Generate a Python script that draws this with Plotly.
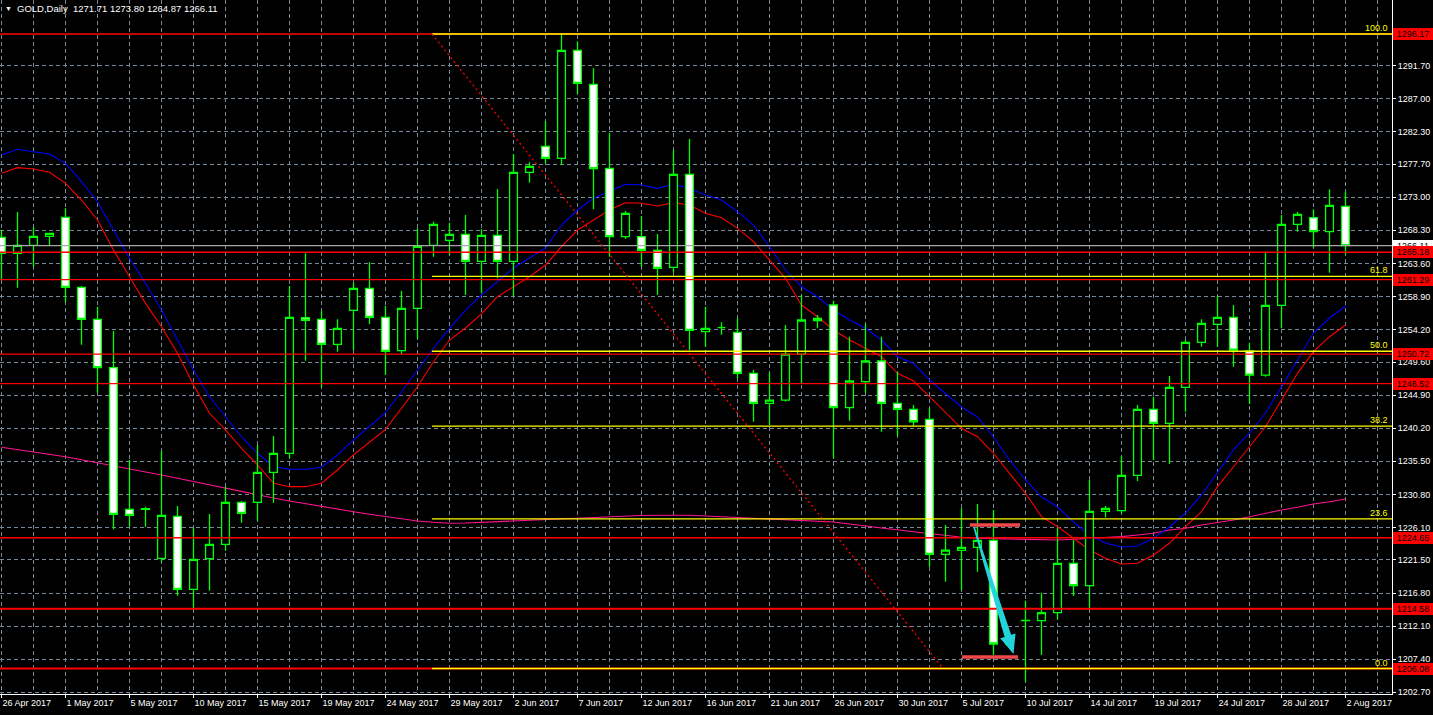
import plotly.graph_objects as go
from datetime import datetime

# ---------------- data ----------------
dates = ["2017-04-26","2017-04-27","2017-04-28","2017-04-30","2017-05-01","2017-05-02","2017-05-03","2017-05-04","2017-05-05","2017-05-07",
 "2017-05-08","2017-05-09","2017-05-10","2017-05-11","2017-05-12","2017-05-14","2017-05-15","2017-05-16","2017-05-17","2017-05-18",
 "2017-05-19","2017-05-21","2017-05-22","2017-05-23","2017-05-24","2017-05-25","2017-05-26","2017-05-28","2017-05-29","2017-05-30",
 "2017-05-31","2017-06-01","2017-06-02","2017-06-04","2017-06-05","2017-06-06","2017-06-07","2017-06-08","2017-06-09","2017-06-11",
 "2017-06-12","2017-06-13","2017-06-14","2017-06-15","2017-06-16","2017-06-18","2017-06-19","2017-06-20","2017-06-21","2017-06-22",
 "2017-06-23","2017-06-25","2017-06-26","2017-06-27","2017-06-28","2017-06-29","2017-06-30","2017-07-02","2017-07-03","2017-07-04",
 "2017-07-05","2017-07-06","2017-07-07","2017-07-09","2017-07-10","2017-07-11","2017-07-12","2017-07-13","2017-07-14","2017-07-16",
 "2017-07-17","2017-07-18","2017-07-19","2017-07-20","2017-07-21","2017-07-23","2017-07-24","2017-07-25","2017-07-26","2017-07-27",
 "2017-07-28","2017-07-30","2017-07-31","2017-08-01","2017-08-02"]

opens = [1267.30,1265.03,1266.16,1267.44,1270.14,1260.20,1255.66,1248.79,1228.68,1228.68,
 1221.72,1227.68,1217.32,1221.67,1223.71,1229.67,1229.67,1233.93,1236.63,1255.89,
 1255.66,1252.11,1256.93,1260.06,1255.94,1251.21,1257.22,1266.16,1266.87,1267.73,
 1263.89,1267.58,1263.89,1276.53,1280.22,1278.52,1293.85,1289.03,1277.10,1267.40,
 1267.40,1265.46,1263.04,1276.25,1253.91,1254.47,1253.81,1247.99,1243.73,1244.20,
 1250.73,1255.47,1257.69,1243.11,1246.80,1249.74,1243.73,1242.88,1241.46,1222.29,
 1222.86,1223.28,1224.28,1209.56,1212.87,1212.87,1214.01,1221.01,1217.84,1228.39,
 1228.49,1233.51,1242.88,1240.89,1246.00,1252.39,1254.95,1255.94,1251.16,1247.75,
 1257.64,1269.15,1270.09,1268.10,1271.71]
highs = [1268.30,1270.90,1268.72,1267.95,1271.42,1260.40,1257.45,1254.00,1235.68,1229.06,
 1237.01,1229.15,1226.08,1228.02,1231.90,1229.86,1237.81,1239.09,1260.39,1265.03,
 1256.89,1255.66,1260.86,1263.75,1257.55,1259.68,1268.58,1269.52,1269.38,1270.47,
 1268.44,1274.16,1279.09,1277.95,1283.82,1296.17,1295.13,1291.30,1282.16,1271.04,
 1270.33,1267.77,1279.70,1281.26,1257.46,1255.23,1255.80,1248.46,1248.10,1254.85,
 1259.11,1256.27,1258.31,1253.19,1254.99,1253.19,1248.22,1243.49,1243.02,1226.45,
 1228.82,1229.44,1228.58,1210.50,1215.71,1216.85,1225.98,1224.32,1232.84,1229.15,
 1236.25,1243.49,1244.68,1247.61,1252.72,1255.66,1258.97,1257.69,1252.34,1265.26,
 1270.47,1270.94,1271.27,1274.11,1273.80]
lows = [1261.34,1260.15,1263.13,1266.16,1258.07,1252.06,1245.24,1225.84,1226.22,1226.22,
 1221.25,1216.42,1214.48,1217.13,1222.81,1226.79,1227.07,1229.63,1235.92,1249.79,
 1246.00,1251.07,1251.30,1254.95,1247.75,1250.69,1252.86,1264.55,1264.79,1259.11,
 1259.35,1261.48,1258.97,1275.06,1277.81,1277.57,1287.65,1271.28,1264.56,1267.06,
 1263.14,1259.11,1262.28,1251.30,1251.78,1253.48,1247.28,1241.12,1240.65,1244.00,
 1246.57,1254.38,1235.92,1241.27,1245.24,1239.70,1239.09,1240.51,1220.54,1218.41,
 1217.22,1219.83,1208.00,1209.30,1204.20,1208.00,1213.06,1216.37,1214.62,1227.54,
 1228.11,1232.70,1235.68,1235.12,1242.55,1251.77,1251.77,1248.94,1243.63,1247.52,
 1254.38,1268.10,1265.74,1262.28,1264.87]
closes = [1265.03,1266.16,1267.44,1267.87,1260.20,1255.66,1248.79,1227.97,1227.83,1228.78,
 1227.83,1217.32,1221.58,1223.71,1229.67,1228.11,1233.93,1236.63,1255.94,1255.51,
 1252.11,1254.38,1260.06,1255.94,1251.11,1257.22,1266.02,1269.15,1267.73,1263.89,
 1267.58,1263.89,1276.53,1277.38,1278.52,1293.85,1289.17,1277.05,1267.40,1270.71,
 1265.46,1262.90,1276.25,1254.10,1254.38,1254.47,1247.99,1243.73,1244.20,1250.73,
 1255.56,1255.80,1243.11,1246.90,1249.74,1243.73,1242.88,1241.12,1222.29,1222.90,
 1223.28,1224.28,1209.56,1210.22,1212.90,1214.01,1221.01,1217.84,1228.39,1228.82,
 1233.51,1242.88,1240.89,1246.00,1252.39,1255.09,1255.94,1251.30,1247.75,1257.64,
 1269.15,1270.57,1268.10,1271.84,1266.11]

ma_blue = [1278.99,1279.80,1279.46,1279.13,1277.81,1275.20,1272.36,1268.34,1264.32,1260.77,
 1256.98,1252.72,1248.46,1244.67,1241.83,1238.99,1236.64,1234.73,1234.37,1234.37,
 1234.65,1236.40,1238.53,1240.41,1242.40,1245.38,1248.46,1251.55,1254.38,1256.98,
 1259.11,1261.03,1262.95,1264.37,1265.79,1269.05,1271.18,1272.84,1273.78,1274.83,
 1274.73,1274.26,1274.83,1274.26,1273.31,1272.60,1270.94,1269.05,1265.97,1262.66,
 1260.29,1258.87,1256.98,1255.56,1254.38,1252.72,1250.35,1249.42,1247.04,1245.16,
 1243.21,1241.79,1238.95,1235.69,1232.85,1230.43,1229.01,1226.88,1225.04,1223.90,
 1223.33,1223.48,1224.61,1226.17,1228.16,1230.72,1233.84,1237.11,1239.52,1242.36,
 1246.05,1249.88,1253.72,1255.85,1257.55]
ma_red = [1276.39,1277.19,1277.00,1276.53,1274.97,1272.60,1269.76,1265.50,1261.71,1257.93,
 1254.61,1250.84,1246.34,1242.32,1239.95,1237.35,1234.98,1232.38,1231.90,1231.90,
 1232.38,1234.27,1236.40,1238.28,1240.04,1243.03,1246.09,1249.64,1252.72,1254.43,
 1256.42,1258.87,1260.29,1261.71,1263.37,1265.97,1268.34,1269.76,1271.18,1272.22,
 1272.13,1271.75,1272.22,1271.89,1270.71,1270.09,1268.58,1266.68,1264.08,1261.48,
 1257.69,1256.03,1254.14,1252.72,1251.55,1250.35,1247.99,1246.90,1244.67,1242.43,
 1240.19,1238.99,1236.64,1233.80,1230.96,1227.64,1226.22,1224.57,1222.91,1221.73,
 1220.92,1221.02,1222.20,1223.86,1226.22,1228.35,1231.90,1234.73,1237.57,1240.41,
 1244.21,1247.99,1251.06,1253.19,1254.85]
ma_pink = [1237.49,1237.18,1236.86,1236.51,1236.15,1235.73,1235.30,1234.90,1234.51,1234.03,
 1233.56,1233.09,1232.61,1232.14,1231.67,1231.19,1230.72,1230.29,1229.87,1229.47,
 1229.06,1228.70,1228.35,1227.99,1227.64,1227.34,1227.03,1226.84,1226.70,1226.74,
 1226.81,1226.95,1227.03,1227.13,1227.24,1227.34,1227.45,1227.55,1227.64,1227.74,
 1227.81,1227.85,1227.88,1227.84,1227.74,1227.64,1227.49,1227.41,1227.31,1227.27,
 1227.17,1227.07,1226.88,1226.60,1226.27,1226.03,1225.79,1225.46,1225.22,1225.00,
 1224.71,1224.57,1224.51,1224.47,1224.43,1224.33,1224.33,1224.43,1224.57,1224.65,
 1224.80,1225.04,1225.28,1225.75,1225.99,1226.46,1226.78,1227.17,1227.64,1228.12,
 1228.59,1228.97,1229.44,1229.77,1230.15]

level_prices = [1296.17, 1265.18, 1261.29, 1250.72, 1246.52, 1224.65, 1214.58, 1206.08]
level_widths = [1.3, 1.3, 1.3, 1.3, 1.3, 1.3, 2, 2]
bid_price = 1266.11

fib_high = 1296.17
fib_low = 1206.08
fib_bars = [26.9, 58.85]
fib_ratios = [0.0, 0.236, 0.382, 0.5, 0.618, 1.0]
fib_labels = ["0.0", "23.6", "38.2", "50.0", "61.8", "100.0"]

ytick_labels = ["1291.70","1287.00","1282.30","1277.70","1273.00","1268.30","1263.60","1258.90","1254.20","1249.60",
 "1244.90","1240.20","1235.50","1230.80","1226.10","1221.50","1216.80","1212.10","1207.40","1202.70"]

title_text = "GOLD,Daily  1271.71 1273.80 1264.87 1266.11"

zone_top_bars = [60.53, 63.66]
zone_top_price = 1226.46
zone_bottom_bars = [60.03, 63.53]
zone_bottom_price = 1207.72
arrow_start = (60.78, 1226.17)
arrow_end = (63.25, 1208.14)

# ---------------- geometry / style ----------------
W, H = 1433, 715
M_R, M_B = 41, 21
PW, PH = W - M_R, H - M_B
BAR_PX = 16.0
x_range = [-1.5 / BAR_PX, (PW - 1.5) / BAR_PX]
y_range = [1202.463, 1300.997]
GRID = "#778899"
FONT = "Liberation Sans"
LIME = "#00FF00"
PRICE_PER_PX = (y_range[1] - y_range[0]) / PH

idx = list(range(len(dates)))
xtick_pos = idx[::4]
xtick_text = []
for i in xtick_pos:
    d = datetime.strptime(dates[i], "%Y-%m-%d")
    xtick_text.append(f"{d.day} {d.strftime('%b')} {d.year}")
minor_pos = [i for i in range(2, len(dates) + 3, 4)]

fig = go.Figure()

# moving averages (behind candles)
for vals, col in [(ma_pink, "#FF1493"), (ma_red, "#FF0000"), (ma_blue, "#0000FF")]:
    fig.add_trace(go.Scatter(x=idx, y=vals, mode="lines", line=dict(color=col, width=1.1),
                             hoverinfo="skip", showlegend=False))

# candles on overlay axes (drawn above MAs)
fig.add_trace(go.Candlestick(
    x=idx, open=opens, high=highs, low=lows, close=closes,
    xaxis="x2", yaxis="y2",
    increasing=dict(line=dict(color=LIME, width=1.3), fillcolor="#000000"),
    decreasing=dict(line=dict(color=LIME, width=1.3), fillcolor="#FFFFFF"),
    whiskerwidth=0, hoverinfo="skip", showlegend=False))

shapes = []
for p, w in zip(level_prices, level_widths):
    shapes.append(dict(type="line", xref="paper", x0=0, x1=1, yref="y", y0=p, y1=p,
                       line=dict(color="#FF0000", width=w), layer="above"))
shapes.append(dict(type="line", xref="paper", x0=0, x1=1, yref="y", y0=bid_price, y1=bid_price,
                   line=dict(color="#A8A8A8", width=1.2), layer="above"))
for r in fib_ratios:
    p = fib_low + r * (fib_high - fib_low)
    shapes.append(dict(type="line", xref="x", x0=fib_bars[0], x1=x_range[1], yref="y", y0=p, y1=p,
                       line=dict(color="#FFFF00", width=1.3), layer="above"))
shapes.append(dict(type="line", xref="x", yref="y", x0=fib_bars[0], y0=fib_high, x1=fib_bars[1], y1=fib_low,
                   line=dict(color="#FF0000", width=1.3, dash="2px,3px"), layer="above"))
ZONE = "#F04848"
half_t = 1.8 * PRICE_PER_PX
for bars, price in [(zone_top_bars, zone_top_price), (zone_bottom_bars, zone_bottom_price)]:
    shapes.append(dict(type="rect", xref="x", yref="y", x0=bars[0], x1=bars[1],
                       y0=price - half_t, y1=price + half_t, fillcolor=ZONE, opacity=1,
                       line=dict(width=0), layer="above"))

# arrow polygon, built in pixel space then mapped back to data
def to_px(x, y):
    return ((x - x_range[0]) / (x_range[1] - x_range[0]) * PW,
            (y_range[1] - y) / (y_range[1] - y_range[0]) * PH)

def to_data(px, py):
    return (x_range[0] + px / PW * (x_range[1] - x_range[0]),
            y_range[1] - py / PH * (y_range[1] - y_range[0]))

sx, sy = to_px(*arrow_start)
tx, ty = to_px(*arrow_end)
dx, dy = tx - sx, ty - sy
L = (dx * dx + dy * dy) ** 0.5
ux, uy = dx / L, dy / L
nx, ny = uy, -ux
head_len, head_half, shaft_half, tail_half = 19.0, 8.0, 3.4, 0.8
bx, by = tx - head_len * ux, ty - head_len * uy
pts_px = [
    (sx - tail_half * nx, sy - tail_half * ny),
    (sx + tail_half * nx, sy + tail_half * ny),
    (bx + shaft_half * nx, by + shaft_half * ny),
    (bx + head_half * nx, by + head_half * ny),
    (tx, ty),
    (bx - head_half * nx, by - head_half * ny),
    (bx - shaft_half * nx, by - shaft_half * ny),
]
pts = [to_data(px, py) for px, py in pts_px]
path = "M " + " L ".join(f"{x:.4f},{y:.4f}" for x, y in pts) + " Z"
shapes.append(dict(type="path", xref="x", yref="y", path=path, fillcolor="#22D3DA",
                   line=dict(width=0), layer="above"))

annotations = []
annotations.append(dict(xref="paper", yref="paper", x=0, y=1, xanchor="left", yanchor="top",
                        xshift=3, yshift=-3, text="▼", showarrow=False,
                        font=dict(family=FONT, size=7, color="white")))
annotations.append(dict(xref="paper", yref="paper", x=0, y=1, xanchor="left", yanchor="top",
                        xshift=15, yshift=-1, text=title_text, showarrow=False,
                        font=dict(family=FONT, size=9.5, color="white")))
for r, lbl in zip(fib_ratios, fib_labels):
    p = fib_low + r * (fib_high - fib_low)
    annotations.append(dict(xref="paper", yref="y", x=1, y=p, xanchor="right", yanchor="bottom",
                            xshift=-2, yshift=-1, text=lbl, showarrow=False,
                            font=dict(family=FONT, size=9, color="#FFFF00")))
box_items = [(bid_price, "#FFFFFF")] + [(p, "#FF0000") for p in level_prices]
for p, bg in box_items:
    annotations.append(dict(xref="paper", yref="y", x=1, y=p, xanchor="left", yanchor="middle",
                            xshift=1, text=f"{p:.2f}", showarrow=False, bgcolor=bg,
                            width=40, height=12, borderpad=0, borderwidth=0, align="center",
                            font=dict(family=FONT, size=9, color="black")))

axis_font = dict(family=FONT, size=9, color="white")
fig.update_layout(
    width=W, height=H,
    margin=dict(l=0, r=M_R, t=0, b=M_B, pad=0),
    paper_bgcolor="#000000", plot_bgcolor="#000000",
    showlegend=False,
    boxgap=0.3,
    shapes=shapes, annotations=annotations,
    xaxis=dict(range=x_range, tickmode="array", tickvals=xtick_pos, ticktext=xtick_text,
               ticks="outside", ticklen=3, tickwidth=1, tickcolor="white",
               ticklabelposition="outside right", tickfont=axis_font,
               showline=True, linecolor="white", linewidth=1,
               showgrid=True, gridcolor=GRID, gridwidth=1, griddash="4px,3px",
               minor=dict(tickvals=minor_pos, showgrid=True, gridcolor=GRID, gridwidth=1,
                          griddash="4px,3px", ticks=""),
               zeroline=False, automargin=False, fixedrange=True,
               rangeslider=dict(visible=False)),
    yaxis=dict(range=y_range, side="right", tickmode="array",
               tickvals=[float(t) for t in ytick_labels], ticktext=ytick_labels,
               ticks="outside", ticklen=3, tickwidth=1, tickcolor="white", tickfont=axis_font,
               showline=True, linecolor="white", linewidth=1,
               showgrid=True, gridcolor=GRID, gridwidth=1, griddash="4px,3px",
               zeroline=False, automargin=False, fixedrange=True),
    xaxis2=dict(overlaying="x", anchor="y2", range=x_range, visible=False,
                rangeslider=dict(visible=False), fixedrange=True),
    yaxis2=dict(overlaying="y", anchor="x2", range=y_range, visible=False, fixedrange=True),
)

fig.write_html("out.html", config={"displayModeBar": False},
               post_script="document.body.style.margin='0px';document.body.style.overflow='hidden';")
